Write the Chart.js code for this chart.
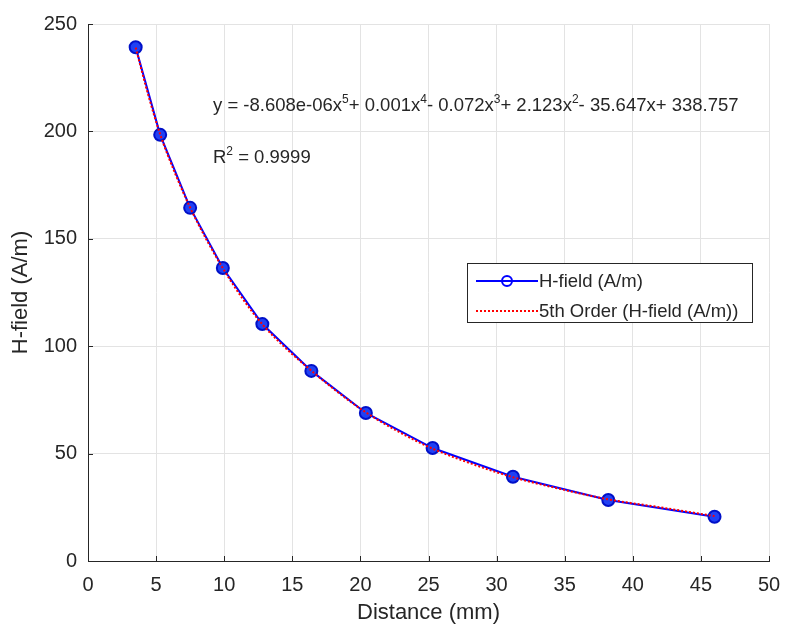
<!DOCTYPE html>
<html>
<head>
<meta charset="utf-8">
<script src="https://cdn.jsdelivr.net/npm/chart.js@4.4.1/dist/chart.umd.min.js"></script>
<style>
  html, body { margin: 0; padding: 0; background: #fff; }
  #wrap { position: relative; width: 785px; height: 628px; }
</style>
</head>
<body>
<div id="wrap"><canvas id="fieldChart" width="785" height="628"></canvas></div>
<script>
// Measured points
const distance = [3.5, 5.3, 7.5, 9.9, 12.8, 16.4, 20.4, 25.3, 31.2, 38.2, 46.0];
const hField = [239.2, 198.4, 164.4, 136.4, 110.3, 88.5, 68.9, 52.6, 39.2, 28.4, 20.6];

// 5th order trend line
const fitDistance = [3.5, 4.4, 5.3, 6.4, 7.5, 8.7, 9.9, 11.3, 12.8, 14.6, 16.4, 18.4, 20.4, 22.8, 25.3, 28.2, 31.2, 34.7, 38.2, 42.1, 46.0];
const fitValues = [239.0, 217.5, 198.6, 180.4, 164.5, 149.6, 136.3, 122.6, 110.2, 98.6, 88.6, 78.3, 69.2, 60.2, 52.3, 45.2, 39.0, 33.5, 28.7, 24.9, 20.9];

const xTicks = [0, 5, 10, 15, 20, 25, 30, 35, 40, 45, 50];
const yTicks = [0, 50, 100, 150, 200, 250];

const seriesLabels = ['H-field (A/m)', '5th Order (H-field (A/m))'];
const equationParts = [
    ['y = -8.608e-06x', false], ['5', true], ['+ 0.001x', false], ['4', true],
    ['- 0.072x', false], ['3', true], ['+ 2.123x', false], ['2', true],
    ['- 35.647x+ 338.757', false]
];

const FONT = '"Liberation Sans", Arial, Helvetica, sans-serif';
const TEXT = '#262626';

function toPoints(xs, ys) {
    return xs.map((x, i) => ({ x: x, y: ys[i] }));
}

// Inside tick marks, legend box and fit equation
const overlayPlugin = {
    id: 'overlay',
    afterDraw(chart) {
        const ctx = chart.ctx;
        const area = chart.chartArea;
        const xs = chart.scales.x;
        const ys = chart.scales.y;
        ctx.save();

        // tick marks pointing into the plot
        ctx.strokeStyle = TEXT;
        ctx.lineWidth = 1;
        ctx.beginPath();
        xTicks.forEach(v => {
            const px = Math.round(xs.getPixelForValue(v)) + 0.5;
            ctx.moveTo(px, area.bottom);
            ctx.lineTo(px, area.bottom - 5);
        });
        yTicks.forEach(v => {
            const py = Math.round(ys.getPixelForValue(v)) + 0.5;
            ctx.moveTo(area.left, py);
            ctx.lineTo(area.left + 5, py);
        });
        ctx.stroke();

        // equation text
        ctx.fillStyle = TEXT;
        ctx.textBaseline = 'alphabetic';
        let x = 213;
        const base = 111;
        equationParts.forEach(([t, sup]) => {
            ctx.font = (sup ? '12px ' : '18.5px ') + FONT;
            ctx.fillText(t, x, sup ? base - 8 : base);
            x += ctx.measureText(t).width;
        });
        ctx.font = '18.5px ' + FONT;
        ctx.fillText('R', 213, 163);
        let rw = ctx.measureText('R').width;
        ctx.font = '12px ' + FONT;
        ctx.fillText('2', 213 + rw, 155);
        rw += ctx.measureText('2').width;
        ctx.font = '18.5px ' + FONT;
        ctx.fillText(' = 0.9999', 213 + rw, 163);

        // legend
        ctx.fillStyle = '#fff';
        ctx.fillRect(467.5, 263.5, 285, 59);
        ctx.strokeStyle = TEXT;
        ctx.lineWidth = 1;
        ctx.strokeRect(467.5, 263.5, 285, 59);

        ctx.strokeStyle = '#0000ff';
        ctx.lineWidth = 2;
        ctx.beginPath();
        ctx.moveTo(476, 281);
        ctx.lineTo(538, 281);
        ctx.stroke();
        ctx.beginPath();
        ctx.arc(507, 281, 5, 0, Math.PI * 2);
        ctx.stroke();

        ctx.strokeStyle = '#ff0000';
        ctx.setLineDash([2, 2]);
        ctx.beginPath();
        ctx.moveTo(476, 311);
        ctx.lineTo(538, 311);
        ctx.stroke();
        ctx.setLineDash([]);

        ctx.fillStyle = TEXT;
        ctx.font = '18.5px ' + FONT;
        ctx.textBaseline = 'middle';
        ctx.fillText(seriesLabels[0], 539, 282);
        ctx.fillText(seriesLabels[1], 539, 312);

        ctx.restore();
    }
};

const ctxField = document.getElementById('fieldChart').getContext('2d');

new Chart(ctxField, {
    type: 'scatter',
    data: {
        datasets: [{
            label: seriesLabels[0],
            data: toPoints(distance, hField),
            showLine: true,
            borderColor: '#0000ff',
            borderWidth: 2,
            pointRadius: 6,
            pointBorderWidth: 2,
            pointBorderColor: '#0010c8',
            pointBackgroundColor: '#2040f4',
            tension: 0,
            order: 2
        }, {
            label: seriesLabels[1],
            data: toPoints(fitDistance, fitValues),
            showLine: true,
            borderColor: '#ff0000',
            borderWidth: 2,
            borderDash: [2, 2],
            pointRadius: 0,
            cubicInterpolationMode: 'monotone',
            order: 1
        }]
    },
    options: {
        responsive: false,
        animation: false,
        layout: { padding: { top: 24, right: 16, left: 0, bottom: 0 } },
        plugins: {
            legend: { display: false },
            tooltip: { enabled: false }
        },
        scales: {
            x: {
                type: 'linear',
                min: 0,
                max: 50,
                afterBuildTicks: axis => { axis.ticks = xTicks.map(v => ({ value: v })); },
                afterFit: axis => {
                    axis.height = 67;
                    axis.paddingRight = 0;
                    axis.paddingLeft = 0;
                },
                grid: { color: '#e3e3e3', drawTicks: false },
                border: { color: TEXT, width: 1 },
                ticks: { padding: 12, color: TEXT, font: { family: FONT, size: 20 } },
                title: {
                    display: true,
                    text: 'Distance (mm)',
                    color: TEXT,
                    font: { family: FONT, size: 22 },
                    padding: { top: 0, bottom: 2 }
                }
            },
            y: {
                type: 'linear',
                min: 0,
                max: 250,
                afterBuildTicks: axis => { axis.ticks = yTicks.map(v => ({ value: v })); },
                afterFit: axis => { axis.width = 88; },
                grid: { color: '#e3e3e3', drawTicks: false },
                border: { color: TEXT, width: 1 },
                ticks: { padding: 11, color: TEXT, font: { family: FONT, size: 20 } },
                title: {
                    display: true,
                    text: 'H-field (A/m)',
                    color: TEXT,
                    font: { family: FONT, size: 22 },
                    padding: { top: 8, bottom: 0 }
                }
            }
        }
    },
    plugins: [overlayPlugin]
});
</script>
</body>
</html>
